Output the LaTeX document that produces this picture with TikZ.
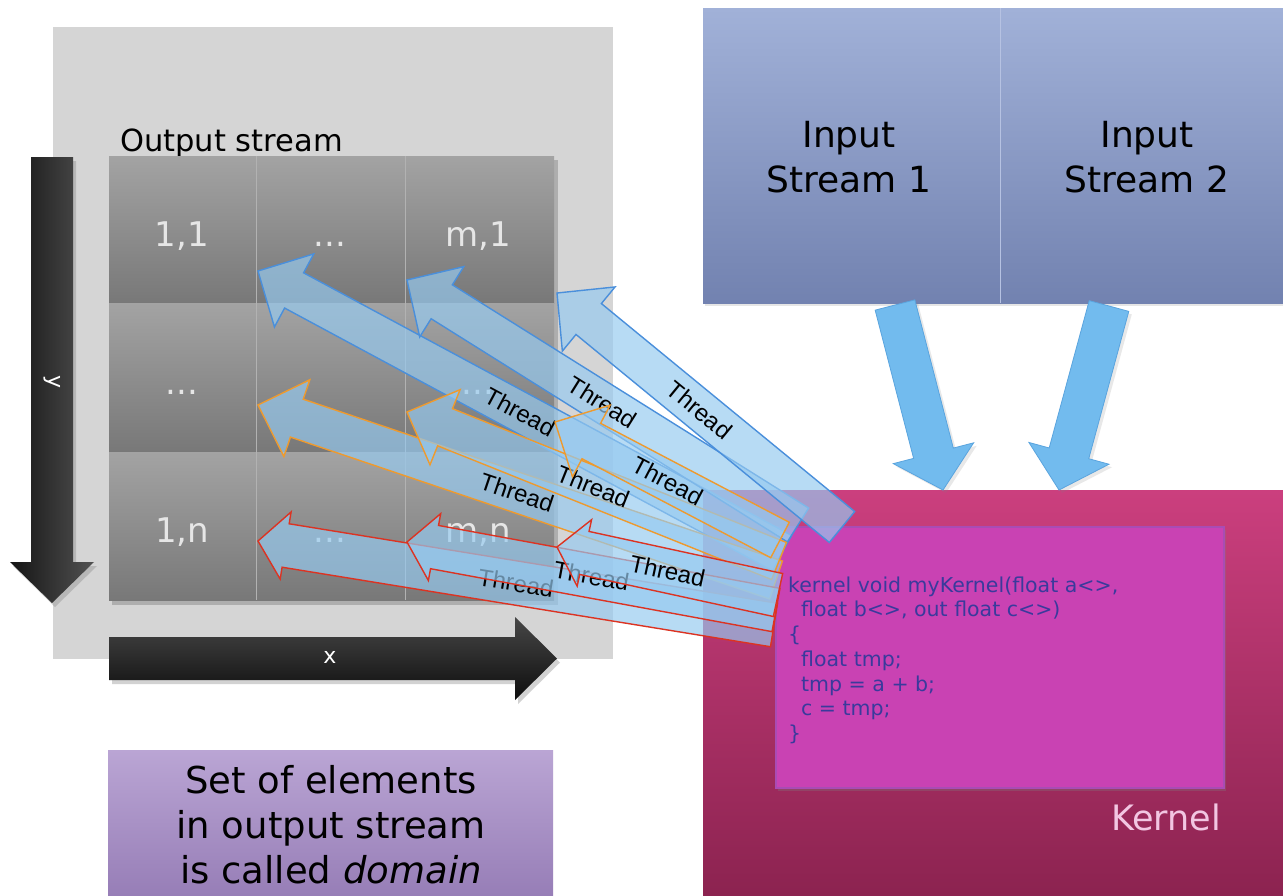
\documentclass[tikz,border=0pt]{standalone}
\usepackage{fontspec}
\setmainfont{DejaVu Sans}
\newfontfamily\threadfont{Liberation Sans}
\usetikzlibrary{calc,shadows}

\definecolor{panelgray}{HTML}{D5D5D5}
\definecolor{celltop}{HTML}{A3A3A3}
\definecolor{cellbot}{HTML}{787878}
\definecolor{cellline}{HTML}{B2B2B2}
\definecolor{celltext}{HTML}{E6E6E6}
\definecolor{intop}{HTML}{A1B1D8}
\definecolor{inbot}{HTML}{7282B0}
\definecolor{insep}{HTML}{B6C2E2}
\definecolor{kertop}{HTML}{CB3F7E}
\definecolor{kerbot}{HTML}{8C2350}
\definecolor{codebg}{HTML}{C942B3}
\definecolor{codeedge}{HTML}{A94CB4}
\definecolor{codetext}{HTML}{3A3A9C}
\definecolor{kerlabel}{HTML}{F2C6E2}
\definecolor{domtop}{HTML}{BAA5D4}
\definecolor{dombot}{HTML}{977EB7}
\definecolor{feedfill}{HTML}{72BBEE}
\definecolor{feededge}{HTML}{5AA4DE}
\definecolor{threadfill}{HTML}{96CAF0}
\definecolor{tblue}{HTML}{4A8FDB}
\definecolor{torange}{HTML}{EE9A2E}
\definecolor{tred}{HTML}{DC3322}

% block arrow: style, tip, tail, shaft half width, head half width, head length
\newcommand\blockarrow[6]{%
  \path[#1] (#2)
    -- ($(#2)!#6!(#3)!#5!90:(#3)$)
    -- ($(#2)!#6!(#3)!#4!90:(#3)$)
    -- ($(#3)!#4!-90:(#2)$)
    -- ($(#3)!#4!90:(#2)$)
    -- ($(#2)!#6!(#3)!#4!-90:(#3)$)
    -- ($(#2)!#6!(#3)!#5!-90:(#3)$)
    -- cycle;}

% thread arrow with its label: outline colour, tip, tail, label name, shaft, head, head length
\newcommand\threadarrow[7]{%
  \blockarrow{threadbody,draw=#1}{#2}{#3}{#5}{#6}{#7}%
  \path (#2) -- (#3) node[threadlabel,midway,sloped] (#4) {Thread};}

\begin{document}
\begin{tikzpicture}[x=1pt,y=-1pt,
  threadbody/.style={fill=threadfill,fill opacity=0.68,line width=1.4pt,line join=miter},
  threadlabel/.style={font=\threadfont\fontsize{24}{28}\selectfont,inner sep=0pt,text=black},
  cellnum/.style={font=\fontsize{34}{40}\selectfont,text=celltext,inner sep=0pt,anchor=base},
  axislabel/.style={font=\fontsize{22}{26}\selectfont,text=white,inner sep=0pt},
  bigtext/.style={font=\fontsize{36}{45}\selectfont,align=center,inner sep=0pt},
  blackarrow/.style={drop shadow={opacity=0.35,shadow xshift=3pt,shadow yshift=-4pt}},
  feedarrow/.style={fill=feedfill,draw=feededge,line width=0.8pt,
    drop shadow={opacity=0.18,shadow xshift=3pt,shadow yshift=-3pt}},
]
\useasboundingbox (0,0) rectangle (1283,895);
\fill[white] (0,0) rectangle (1283,895);

% output stream panel
\fill[panelgray] (53,27) rectangle (613,659);
\node[font=\fontsize{30.5}{36}\selectfont,anchor=base west,inner sep=0pt] (outlabel) at (120,151) {Output stream};

% element grid
\fill[black,opacity=0.18] (112,160) rectangle (558,605);
\foreach \ya/\yb in {156/303,303/452,452/600}
  \shade[top color=celltop,bottom color=cellbot] (109,\ya) rectangle (554,\yb);
\draw[cellline,line width=1pt] (256,156) -- (256,600) (405,156) -- (405,600);
\node[cellnum] (c11) at (182,246) {1,1};
\node[cellnum] (c21) at (330,246) {...};
\node[cellnum] (c31) at (478,246) {m,1};
\node[cellnum] (c12) at (182,394) {...};
\node[cellnum] (c32) at (478,394) {...};
\node[cellnum] (c13) at (182,542) {1,n};
\node[cellnum] (c23) at (330,542) {...};
\node[cellnum] (c33) at (478,542) {m,n};

% y axis arrow
\path[blackarrow,left color=black!92,right color=black!68]
  (31,157) -- (73,157) -- (73,562) -- (94,562) -- (52,603) -- (10,562) -- (31,562) -- cycle;
\node[axislabel,rotate=-90] (ylab) at (52,382) {y};

% x axis arrow
\path[blackarrow,top color=black!72,bottom color=black!95]
  (109,637) -- (515,637) -- (515,617) -- (557,658.5) -- (515,700) -- (515,680) -- (109,680) -- cycle;
\node[axislabel] (xlab) at (330,657) {x};

% input streams
\path[top color=intop,bottom color=inbot,
  drop shadow={opacity=0.2,shadow xshift=2pt,shadow yshift=-3pt}] (703,8) rectangle (1283,303);
\draw[insep,line width=0.8pt] (1000,8) -- (1000,303);
\node[bigtext] (in1) at (849,157.5) {Input\\Stream 1};
\node[bigtext] (in2) at (1147,157.5) {Input\\Stream 2};

% kernel
\shade[top color=kertop,bottom color=kerbot] (703,490) rectangle (1283,895);
\path[fill=codebg,draw=codeedge,line width=1.2pt,
  drop shadow={opacity=0.3,shadow xshift=2pt,shadow yshift=-3pt}] (776,527) rectangle (1224,788);
\node[font=\fontsize{20.5}{24.7}\selectfont,text=codetext,align=left,anchor=north west,inner sep=0pt]
  (code) at (788,576.5)
  {kernel void myKernel(float a<>,\\
   \hspace*{13pt}float b<>, out float c<>)\\
   \{\\
   \hspace*{13pt}float tmp;\\
   \hspace*{13pt}tmp = a + b;\\
   \hspace*{13pt}c = tmp;\\
   \}};
\node[font=\fontsize{35}{42}\selectfont,text=kerlabel,anchor=base,inner sep=0pt] (kerlab) at (1166,830) {Kernel};

% streams feeding the kernel
\coordinate (feed1tip) at (943,490);
\coordinate (feed1tail) at (895,305);
\coordinate (feed2tip) at (1059,490);
\coordinate (feed2tail) at (1109,306);
\blockarrow{feedarrow}{feed1tip}{feed1tail}{20.5pt}{41.5pt}{38pt}
\blockarrow{feedarrow}{feed2tip}{feed2tail}{20.5pt}{41.5pt}{38pt}

% domain note
\shade[top color=domtop,bottom color=dombot] (108,750) rectangle (553,895);
\node[bigtext,font=\fontsize{37}{45}\selectfont] (domain) at (331,825)
  {Set of elements\\in output stream\\is called \textit{domain}};

% threads: one per output element
\coordinate (B1tip) at (258,271);  \coordinate (B1tail) at (782,553);
\coordinate (B2tip) at (407,280);  \coordinate (B2tail) at (798,525);
\coordinate (B3tip) at (557,293);  \coordinate (B3tail) at (842,527);
\coordinate (O1tip) at (258,405);  \coordinate (O1tail) at (776,580);
\coordinate (O2tip) at (407,412);  \coordinate (O2tail) at (779,561);
\coordinate (O3tip) at (555,422);  \coordinate (O3tail) at (780,540);
\coordinate (R1tip) at (258,541);  \coordinate (R1tail) at (774,625);
\coordinate (R2tip) at (407,542);  \coordinate (R2tail) at (776,610);
\coordinate (R3tip) at (557,547);  \coordinate (R3tail) at (778,595);

\threadarrow{tblue}{B1tip}{B1tail}{B1lab}{20pt}{41.5pt}{41pt}
\threadarrow{tblue}{B2tip}{B2tail}{B2lab}{20pt}{41.5pt}{41pt}
\threadarrow{tblue}{B3tip}{B3tail}{B3lab}{20pt}{41.5pt}{41pt}
\threadarrow{torange}{O1tip}{O1tail}{O1lab}{20pt}{40.5pt}{41pt}
\threadarrow{torange}{O2tip}{O2tail}{O2lab}{20pt}{40.5pt}{41pt}
\threadarrow{torange}{O3tip}{O3tail}{O3lab}{20pt}{40.5pt}{41pt}
\threadarrow{tred}{R1tip}{R1tail}{R1lab}{22pt}{34pt}{28pt}
\threadarrow{tred}{R2tip}{R2tail}{R2lab}{22pt}{34pt}{28pt}
\threadarrow{tred}{R3tip}{R3tail}{R3lab}{22pt}{34pt}{28pt}
\end{tikzpicture}
\end{document}
